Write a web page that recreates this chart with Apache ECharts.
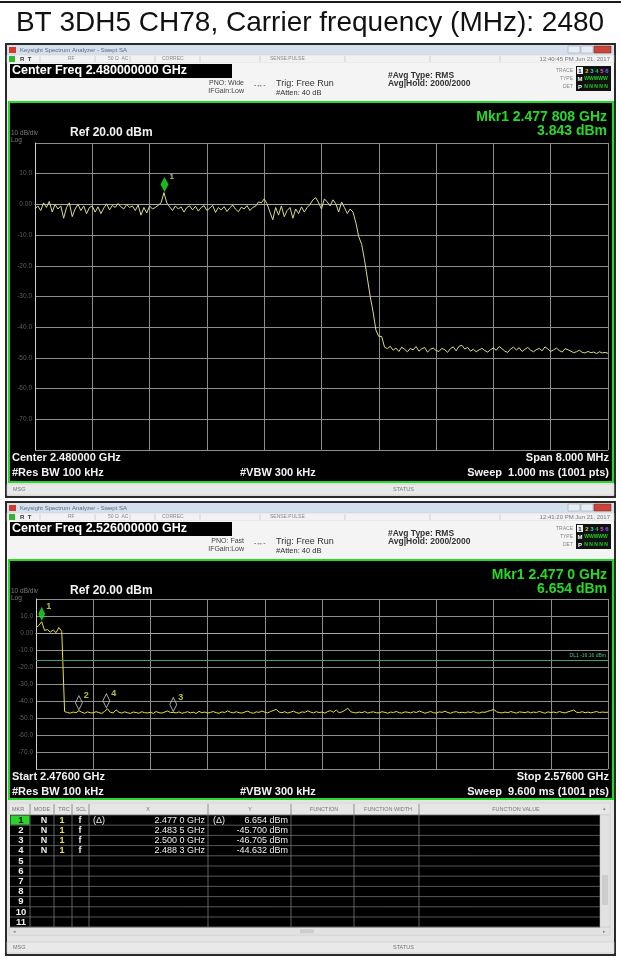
<!DOCTYPE html>
<html><head><meta charset="utf-8">
<script src="https://cdn.jsdelivr.net/npm/echarts@6/dist/echarts.min.js"></script>
<style>html,body{margin:0;padding:0;background:#fff}#c{width:621px;height:958px}</style>
</head><body><div id="c"></div>
<script>
// ---------------- DATA ----------------
const pageTitle = 'BT 3DH5 CH78, Carrier frequency (MHz): 2480';
const yMin = -80, yMax = 20, yStep = 10;            // dBm, 10 dB/div, Ref 20 dBm

// Top sweep: 2.476 - 2.484 GHz, offsets in MHz from start
const topSpanMHz = 8, topStepMHz = 0.04;
const topTrace = [
 -1.5,-0.5,-2.0,0.5,-1.0,1.0,-2.5,0.0,-1.5,-0.5,
 -4.5,-1.0,0.5,-4.0,-1.5,0.0,-2.0,-0.5,-3.0,-1.0,
 -0.5,-2.5,-0.8,-3.0,-1.2,0.2,-1.8,-0.3,-1.0,0.3,
 -0.8,-1.5,0.0,-1.0,-0.5,-2.0,-0.2,-3.5,-1.0,-2.8,
 -0.5,-1.5,-1.0,-0.3,0.5,3.84,0.5,-0.8,-2.0,-0.5,
 -1.5,-0.8,-2.5,-1.0,-0.5,-1.8,-0.6,-2.2,-1.0,-0.4,
 -2.0,-1.2,-0.3,-2.6,-1.0,-1.8,-0.7,-2.3,-1.1,-0.2,
 -1.6,-2.4,-0.9,-1.5,-0.4,-2.0,-1.0,-0.6,0.8,0.5,
 1.8,0.2,-2.5,-5.0,-1.0,-3.5,-0.5,-4.0,-2.0,-1.0,
 -4.5,-1.5,-3.0,-0.8,-2.5,-1.0,0.0,1.5,2.2,0.5,
 -1.5,1.8,0.8,-0.5,1.5,0.2,-2.5,0.8,-1.0,-3.0,
 -1.5,-2.5,-6.0,-10.5,-13.0,-18.0,-24.0,-30.0,-35.0,-41.0,
 -43.0,-43.0,-46.5,
 -47.0,-46.2,-47.5,-46.8,-47.9,-46.5,-47.2,-48.0,-46.9,-47.4,
 -46.3,-47.8,-47.0,-46.6,-48.1,-47.2,-46.8,-47.6,-47.9,-46.9,
 -47.3,-48.2,-47.0,-46.4,-47.7,-46.2,-45.9,-47.1,-46.6,-47.8,
 -47.2,-48.0,-47.4,-46.9,-47.6,-48.1,-47.3,-46.8,-47.5,-46.3,
 -47.0,-47.8,-48.2,-47.1,-46.5,-47.4,-46.7,-47.9,-47.2,-46.6,
 -47.5,-48.0,-47.3,-46.9,-47.7,-46.4,-47.1,-47.9,-47.4,-46.8,
 -47.6,-48.1,-47.0,-47.3,-47.8,-48.3,-48.0,-47.5,-48.2,-48.4,
 -47.9,-48.3,-48.1,-48.6,-48.0,-48.4,-48.2,-48.5
];
const topMarkerF = [1.808];      // MHz offset (2.477808 GHz)
const topMarkerV = [3.843];
const topMarkerIds = ['1'];

// Bottom sweep: 2.476 - 2.576 GHz
const botSpanMHz = 100, botStepMHz = 0.5;
const botTrace = [
 3.0,4.5,6.654,1.5,2.0,0.5,1.8,0.2,3.2,1.0,
 -46.2,-46.8,-47.1,-46.5,-46.9,-45.7,-46.6,-47.2,-46.4,-46.9,
 -47.0,-46.3,-46.8,-47.3,-46.1,-44.6,-46.7,-47.0,-45.2,-46.6,
 -47.1,-46.4,-46.9,-47.3,-46.5,-46.8,-47.2,-46.3,-46.9,-47.0,
 -46.6,-47.3,-46.2,-46.9,-47.1,-46.5,-45.9,-46.8,-46.7,-47.0,
 -46.4,-47.2,-46.8,-46.3,-47.0,-46.6,-47.3,-46.1,-46.9,-46.5,
 -47.1,-46.7,-46.2,-46.9,-47.2,-46.4,-46.8,-45.8,-46.6,-47.0,
 -46.3,-46.9,-47.1,-46.5,-46.0,-46.8,-47.2,-46.4,-46.7,-45.9,
 -46.6,-47.0,-46.2,-45.6,-44.9,-46.5,-46.9,-46.3,-47.1,-46.6,
 -46.0,-46.8,-47.2,-46.4,-46.7,-45.8,-46.5,-47.0,-46.3,-46.8,
 -46.5,-47.1,-46.2,-45.7,-46.6,-45.3,-46.9,-46.4,-45.5,-44.2,
 -46.3,-46.8,-47.0,-46.5,-46.9,-46.2,-47.1,-46.6,-46.4,-46.9,
 -47.0,-46.3,-46.7,-47.2,-46.5,-46.8,-46.1,-46.9,-47.1,-46.4,
 -46.6,-47.0,-46.3,-46.8,-45.9,-46.5,-47.2,-46.7,-46.2,-46.9,
 -47.1,-46.4,-46.7,-46.0,-46.8,-47.2,-46.5,-46.3,-46.9,-46.6,
 -47.0,-46.4,-46.8,-46.2,-46.9,-47.1,-46.5,-46.7,-46.0,-45.6,
 -44.9,-46.3,-46.8,-47.0,-46.5,-46.9,-46.2,-46.7,-47.1,-46.4,
 -46.6,-46.9,-46.3,-47.0,-46.5,-46.8,-46.1,-46.7,-47.2,-46.4,
 -46.8,-46.5,-46.9,-46.2,-46.7,-47.0,-46.4,-45.9,-45.3,-46.6,
 -46.8,-46.3,-46.9,-46.5,-47.0,-46.6,-46.2,-46.8,-46.5,-46.7,
 -46.6
];
const botMarkerIds = ['1','2','3','4'];
const botMarkerF = [1.0, 7.5, 24.0, 12.3];           // MHz offsets
const botMarkerV = [6.654, -45.700, -46.705, -44.632];
const displayLine = -16.16;
const displayLineLabel = 'DL1 -16.16 dBm';

// Header / footer strings
const topHeader = ['12:40:45 PM Jun 21, 2017','Center Freq 2.480000000 GHz','PNO: Wide','IFGain:Low','Trig: Free Run','#Atten: 40 dB','#Avg Type: RMS','Avg|Hold: 2000/2000','Mkr1 2.477 808 GHz','3.843 dBm'];
const topFooter = ['Center 2.480000 GHz','#Res BW 100 kHz','#VBW 300 kHz','Span 8.000 MHz','Sweep  1.000 ms (1001 pts)'];
const botHeader = ['12:41:20 PM Jun 21, 2017','Center Freq 2.526000000 GHz','PNO: Fast','IFGain:Low','Trig: Free Run','#Atten: 40 dB','#Avg Type: RMS','Avg|Hold: 2000/2000','Mkr1 2.477 0 GHz','6.654 dBm'];
const botFooter = ['Start 2.47600 GHz','#Res BW 100 kHz','#VBW 300 kHz','Stop 2.57600 GHz','Sweep  9.600 ms (1001 pts)'];

// Marker table
const tableHead = ['MKR','MODE','TRC','SCL','X','Y','FUNCTION','FUNCTION WIDTH','FUNCTION VALUE'];
const tableMode = ['N','N','N','N'];
const tableTrc = ['1','1','1','1'];
const tableScl = ['f','f','f','f'];
const tableRef = ['(Δ)','','',''];
const tableX = ['2.477 0 GHz','2.483 5 GHz','2.500 0 GHz','2.488 3 GHz'];
const tableXRef = ['(Δ)','','',''];
const tableY = ['6.654 dBm','-45.700 dBm','-46.705 dBm','-44.632 dBm'];
const tableRows = 11;

// ---------------- DRAWING HELPERS ----------------
const FF = "'Liberation Sans', Arial, Helvetica, sans-serif";
const G = [];
function R(x,y,w,h,fill,stroke,lw,z){G.push({type:'rect',silent:true,z:z||0,shape:{x:x,y:y,width:w,height:h},style:{fill:fill||'none',stroke:stroke||null,lineWidth:lw||0}});}
function L(x1,y1,x2,y2,stroke,lw,z){G.push({type:'line',silent:true,z:z||1,shape:{x1:x1,y1:y1,x2:x2,y2:y2},style:{stroke:stroke,lineWidth:lw||1}});}
function T(x,y,text,font,fill,align,z){G.push({type:'text',silent:true,z:z||2,x:x,y:y,style:{text:text,font:font,fill:fill,textAlign:align||'left',textVerticalAlign:'middle',align:align||'left',verticalAlign:'middle'}});}

const GREEN = '#27d927';
function panel(oy, H, hdr, ftr, greenBottom, fy){
  R(6, oy, 609, H, '#e4e4e4', '#2a2a2a', 2, 0);
  R(7, oy+1, 607, 10, '#d5e0ee', null, 0, 0);
  R(9, oy+3, 7, 6, '#d23a2a', null, 0, 1);
  T(20, oy+6, 'Keysight Spectrum Analyzer - Swept SA', '6px '+FF, '#5a6a80');
  R(568, oy+2, 12, 7, '#e6edf5', '#9aa8ba', 0.6, 1);
  R(581, oy+2, 12, 7, '#e6edf5', '#9aa8ba', 0.6, 1);
  R(594, oy+2, 17, 7, '#c9453a', '#8a2a22', 0.6, 1);
  R(7, oy+11, 607, 8, '#f2f2f2', '#cfcfcf', 0.5, 0);
  R(9, oy+12, 6, 6, '#2fb52f', null, 0, 1);
  T(20, oy+15, 'R  T', 'bold 6px '+FF, '#333');
  [40,95,130,155,200,260,345,430,500].forEach(function(x){L(x, oy+12, x, oy+18, '#bdbdbd', 0.6, 1);});
  T(68, oy+15, 'RF', '5px '+FF, '#888');
  T(108, oy+15, '50 Ω  AC', '5px '+FF, '#888');
  T(162, oy+15, 'CORREC', '5px '+FF, '#888');
  T(270, oy+15, 'SENSE:PULSE', '5px '+FF, '#888');
  T(610, oy+15, hdr[0], '6px '+FF, '#777', 'right');
  R(7, oy+19, 607, 39, '#f4f4f4', null, 0, 0);
  R(10, oy+20, 222, 14, '#000', null, 0, 1);
  T(12, oy+27, hdr[1], 'bold 12.5px '+FF, '#fff');
  T(244, oy+39, hdr[2], '7px '+FF, '#444', 'right');
  T(244, oy+47, hdr[3], '7px '+FF, '#444', 'right');
  T(254, oy+41, '-↔-', '7px '+FF, '#444');
  T(276, oy+40, hdr[4], '9px '+FF, '#333');
  T(276, oy+49, hdr[5], '7.5px '+FF, '#333');
  T(388, oy+32, hdr[6], 'bold 8.5px '+FF, '#333');
  T(388, oy+40, hdr[7], 'bold 8.5px '+FF, '#333');
  T(573, oy+27, 'TRACE', '5px '+FF, '#888', 'right');
  T(573, oy+35, 'TYPE', '5px '+FF, '#888', 'right');
  T(573, oy+43, 'DET', '5px '+FF, '#888', 'right');
  R(576, oy+22, 35, 25, '#111', null, 0, 1);
  R(577, oy+23, 6, 7, '#f0f0f0', null, 0, 1);
  T(580, oy+27, '1', 'bold 6px '+FF, '#111', 'center', 3);
  ['#e0d800','#3cc0ff','#22cc22','#ff40ff','#6a6aff'].forEach(function(c,i){T(587+i*5, oy+27, String(i+2), 'bold 6px '+FF, c, 'center', 3);});
  T(580, oy+35, 'M', 'bold 6px '+FF, '#fff', 'center', 3);
  T(596, oy+35, 'WWWWW', 'bold 5px '+FF, '#22cc22', 'center', 3);
  T(580, oy+43, 'P', 'bold 6px '+FF, '#fff', 'center', 3);
  T(596, oy+43, 'N N N N N', 'bold 5px '+FF, '#22cc22', 'center', 3);
  R(9, oy+58, 604, greenBottom-(oy+58), '#000', GREEN, 2, 0);
  T(607, oy+73, hdr[8], 'bold 14px '+FF, GREEN, 'right');
  T(607, oy+87, hdr[9], 'bold 14px '+FF, GREEN, 'right');
  T(11, oy+89, '10 dB/div', '6.5px '+FF, '#7a7a7a');
  T(11, oy+96, 'Log', '6.5px '+FF, '#7a7a7a');
  T(70, oy+89, 'Ref 20.00 dBm', 'bold 12px '+FF, '#f2f2f2');
  T(12, fy, ftr[0], 'bold 11px '+FF, '#f2f2f2');
  T(12, fy+15, ftr[1], 'bold 11px '+FF, '#f2f2f2');
  T(240, fy+15, ftr[2], 'bold 11px '+FF, '#f2f2f2');
  T(609, fy, ftr[3], 'bold 11px '+FF, '#f2f2f2', 'right');
  T(609, fy+15, ftr[4], 'bold 11px '+FF, '#f2f2f2', 'right');
  R(7, oy+H-13, 607, 11, '#e9e9e9', '#cdcdcd', 0.6, 0);
  T(13, oy+H-7.5, 'MSG', '5.5px '+FF, '#777');
  T(393, oy+H-7.5, 'STATUS', '5.5px '+FF, '#777');
}

R(0, 1, 621, 2, '#1a1a1a', null, 0, 0);
T(310, 23, pageTitle, '28px '+FF, '#111', 'center');

panel(44, 453, topHeader, topFooter, 482, 458);
panel(502, 453, botHeader, botFooter, 799, 777);

(function(){
  const top = 815, pitch = 10.2;
  R(9, 803, 601, 12, '#e6e6e6', '#c8c8c8', 0.5, 1);
  const headX = [18,42,64,81,148,250,324,388,516];
  tableHead.forEach(function(h,i){T(headX[i], 809, h, '5.5px '+FF, '#777', 'center', 3);});
  T(604, 809, '▴', '5px '+FF, '#888', 'center', 3);
  R(10, top, 590, pitch*tableRows, '#000', null, 0, 1);
  for (let r=0;r<=tableRows;r++){ L(10, top+r*pitch, 600, top+r*pitch, '#6d6d6d', 0.8, 2); }
  [30,54,72,89,208,291,354,419].forEach(function(x){ L(x, 804, x, top+pitch*tableRows, '#7a7a7a', 0.8, 2); });
  R(10.5, top+0.5, 19, pitch-1, '#2fd12f', null, 0, 2);
  for (let r=0;r<tableRows;r++){
    const cy = top + (r+0.5)*pitch;
    T(21, cy, String(r+1), 'bold 9.5px '+FF, r===0 ? '#111' : '#eee', 'center', 3);
  }
  for (let r=0;r<tableX.length;r++){
    const cy = top + (r+0.5)*pitch;
    T(44, cy, tableMode[r], 'bold 9px '+FF, '#eee', 'center', 3);
    T(62, cy, tableTrc[r], 'bold 9px '+FF, '#e8e83a', 'center', 3);
    T(80, cy, tableScl[r], 'bold 9px '+FF, '#eee', 'center', 3);
    T(93, cy, tableRef[r], '9px '+FF, '#eee', 'left', 3);
    T(205, cy, tableX[r], '9px '+FF, '#eee', 'right', 3);
    T(213, cy, tableXRef[r], '9px '+FF, '#eee', 'left', 3);
    T(288, cy, tableY[r], '9px '+FF, '#eee', 'right', 3);
  }
  R(600, top, 10, pitch*tableRows, '#e2e2e2', '#c4c4c4', 0.5, 1);
  R(602, top+60, 6, 30, '#cdcdcd', null, 0, 2);
  R(9, top+pitch*tableRows, 601, 8, '#e2e2e2', '#c4c4c4', 0.5, 1);
  R(300, top+pitch*tableRows+2, 14, 4, '#cdcdcd', null, 0, 2);
  T(13, top+pitch*tableRows+4, '◂', '5px '+FF, '#888', 'left', 3);
  T(606, top+pitch*tableRows+4, '▸', '5px '+FF, '#888', 'right', 3);
})();

// ---------------- CHART ----------------
const yLabelFmt = function(v){ if (v===yMax || v===yMin) return ''; return v===0 ? '0.00' : v.toFixed(1); };
function yAxisDef(idx){
  return {type:'value', gridIndex:idx, min:yMin, max:yMax, interval:yStep, z:3,
    axisLine:{show:true, lineStyle:{color:'#cfcfcf', width:1}}, axisTick:{show:false},
    axisLabel:{formatter:yLabelFmt, color:'#5e5e5e', fontSize:6.5, margin:3, fontFamily:FF},
    splitLine:{show:true, lineStyle:{color:'#8e8e8e', width:1}}};
}
function xAxisDef(idx, span){
  return {type:'value', gridIndex:idx, min:0, max:span, interval:span/10, z:3,
    axisLine:{show:true, lineStyle:{color:'#a8a8a8'}}, axisTick:{show:false}, axisLabel:{show:false},
    splitLine:{show:true, lineStyle:{color:'#8e8e8e', width:1}}};
}

const option = {
  backgroundColor:'#ffffff',
  animation:false,
  graphic:{elements:G},
  grid:[
    {left:35, top:143, width:573, height:307},
    {left:36, top:599, width:572, height:170}
  ],
  xAxis:[xAxisDef(0, topSpanMHz), xAxisDef(1, botSpanMHz)],
  yAxis:[yAxisDef(0), yAxisDef(1)],
  series:[
    {type:'line', xAxisIndex:0, yAxisIndex:0, z:4, showSymbol:false, silent:true,
     data: topTrace.map(function(v,i){return [i*topStepMHz, v];}),
     lineStyle:{color:'#dcdc86', width:1}},
    {type:'scatter', xAxisIndex:0, yAxisIndex:0, z:5, silent:true,
     data: topMarkerF.map(function(f,i){return {name:topMarkerIds[i], value:[f, topMarkerV[i]]};}),
     symbol:'diamond', symbolSize:[8,15], symbolOffset:[0,-8],
     itemStyle:{color:'#22e622'},
     label:{show:true, formatter:'{b}', position:'right', distance:1, offset:[0,-8], color:'#e8e8a0', fontSize:8, fontWeight:'bold', fontFamily:FF}},
    {type:'line', xAxisIndex:1, yAxisIndex:1, z:4, showSymbol:false, silent:true,
     data: botTrace.map(function(v,i){return [i*botStepMHz, v];}),
     lineStyle:{color:'#e2e23c', width:1},
     markLine:{silent:true, symbol:'none', animation:false,
       data:[{yAxis:displayLine}],
       lineStyle:{color:'#3f9e78', width:1, type:'solid'},
       label:{show:true, position:'insideEndTop', formatter:displayLineLabel, color:'#3fc27f', fontSize:5, distance:2, fontFamily:FF}}},
    {type:'scatter', xAxisIndex:1, yAxisIndex:1, z:5, silent:true,
     data: botMarkerF.map(function(f,i){
       return {name:botMarkerIds[i], value:[f, botMarkerV[i]],
         itemStyle: i===0 ? {color:'#22e622'} : {color:'rgba(0,0,0,0)', borderColor:'#d0d0d0', borderWidth:1}};
     }),
     symbol:'diamond', symbolSize:[7,14], symbolOffset:[0,-8],
     label:{show:true, formatter:'{b}', position:'right', distance:1, offset:[0,-7], color:'#e8e84a', fontSize:9, fontWeight:'bold', fontFamily:FF}}
  ]
};
const chart = echarts.init(document.getElementById('c'), null, {renderer:'canvas', width:621, height:958});
chart.setOption(option);
</script>
</body></html>
